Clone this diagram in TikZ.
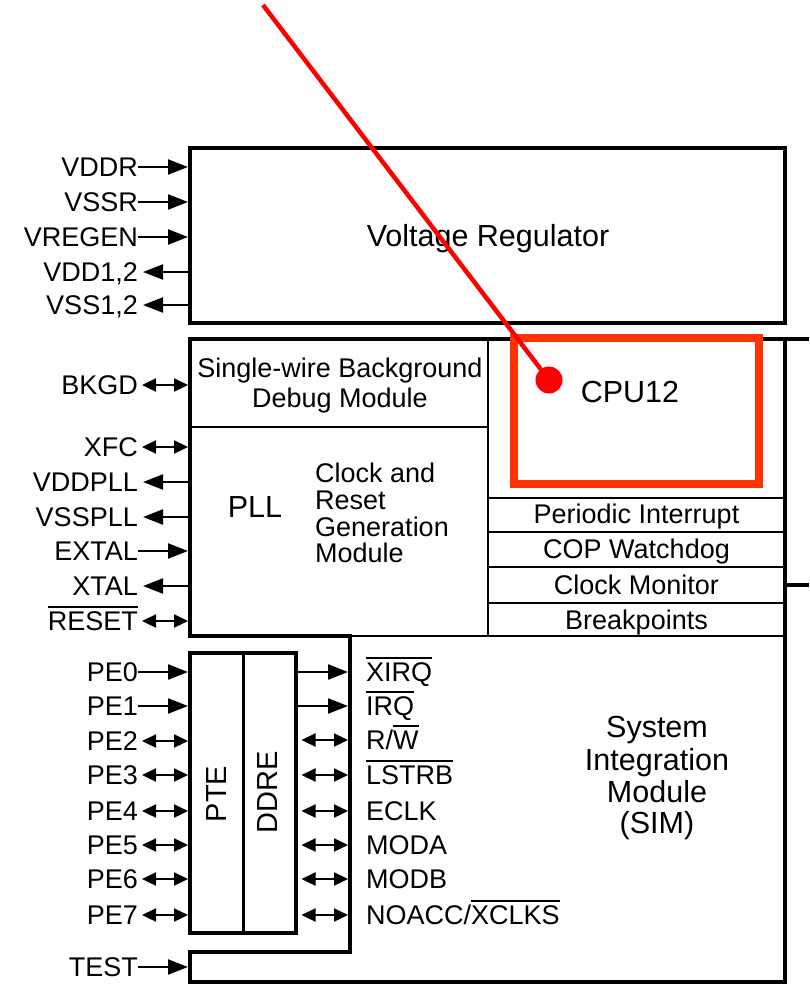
\documentclass[tikz,border=0pt]{standalone}
\usepackage{fontspec}
\setmainfont{Liberation Sans}
\usetikzlibrary{arrows.meta}
\definecolor{redline}{RGB}{255,0,0}
\definecolor{redbox}{RGB}{255,51,0}
\newcommand\ovl[1]{\setbox0\hbox{#1}\rlap{\rule[23pt]{\wd0}{1.6pt}}\box0}
\tikzset{
  lab/.style={font=\fontsize{27}{30}\selectfont, inner sep=0pt, text height=19.3pt, text depth=0pt},
  bigtext/.style={font=\fontsize{30.5}{32}\selectfont, inner sep=0pt, text height=21.8pt, text depth=0pt},
  thickbox/.style={line width=3.5pt},
  thinline/.style={line width=2pt},
  pin in/.style={line width=2.3pt, -{Triangle[length=20pt,width=15pt]}},
  pin out/.style={line width=2.3pt, {Triangle[length=20pt,width=15pt]}-, shorten <=5pt},
  pin bi/.style={line width=2.3pt, {Triangle[length=14pt,width=13pt]}-{Triangle[length=14pt,width=13pt]}, shorten <=4pt},
}
\begin{document}
\begin{tikzpicture}[x=1pt,y=-1pt]
\useasboundingbox (0,0) rectangle (809,985);
\fill[white] (0,0) rectangle (809,985);
% Voltage regulator
\draw[thickbox] (190,148) rectangle (785,323);
\node[bigtext] (vr) at (488,236) {Voltage Regulator};
% lower outline
\draw[thickbox] (809,339) -- (190,339) -- (190,636) -- (350,636) -- (350,952) -- (190,952) -- (190,982) -- (785,982) -- (785,339);
\draw[thickbox] (785,585) -- (809,585);
% inner lines
\draw[thinline] (190,427) -- (488,427);
\draw[thinline] (488,339) -- (488,636);
\draw[thinline] (350,636) -- (785,636);
\foreach \y in {498,532,567,603} \draw[thinline] (488,\y) -- (785,\y);
% PTE / DDRE
\draw[thickbox] (190,653) rectangle (296,933);
\draw[thickbox] (243.5,653) -- (243.5,933);
\node[bigtext, font=\fontsize{29}{30}\selectfont, text height=20.8pt, rotate=90] (pte) at (216,794) {PTE};
\node[bigtext, font=\fontsize{29}{30}\selectfont, text height=20.8pt, rotate=90] (ddre) at (267,792) {DDRE};
% texts
\node[bigtext] (cpu) at (630,392) {CPU12};
\node[lab] (pit) at (636.5,514) {Periodic Interrupt};
\node[lab] (cop) at (636.5,549) {COP Watchdog};
\node[lab] (cm) at (636.5,585) {Clock Monitor};
\node[lab] (bp) at (636.5,620) {Breakpoints};
\node[lab] (bdm1) at (340,368) {Single-wire Background};
\node[lab] (bdm2) at (340,398) {Debug Module};
\node[bigtext] (pll) at (255,507) {PLL};
\node[lab, anchor=west] (crg1) at (315,473) {Clock and};
\node[lab, anchor=west] (crg2) at (315,500) {Reset};
\node[lab, anchor=west] (crg3) at (315,527) {Generation};
\node[lab, anchor=west] (crg4) at (315,553) {Module};
\node[bigtext] (sim1) at (657,727) {System};
\node[bigtext] (sim2) at (657,760) {Integration};
\node[bigtext] (sim3) at (657,792) {Module};
\node[bigtext] (sim4) at (657,823) {(SIM)};
% left pins
\foreach \n/\y/\t/\k in {
 VDDR/167/VDDR/pin in, VSSR/202/VSSR/pin in, VREGEN/237/VREGEN/pin in,
 VDD/272/{VDD1,2}/pin out, VSS/305/{VSS1,2}/pin out,
 BKGD/385/BKGD/pin bi, XFC/447/XFC/pin bi, VDDPLL/482/VDDPLL/pin out,
 VSSPLL/517/VSSPLL/pin out, EXTAL/551/EXTAL/pin in, XTAL/586/XTAL/pin out,
 RESET/621/\ovl{RESET}/pin bi,
 PEa/672/PE0/pin in, PEb/706/PE1/pin in, PEc/741/PE2/pin bi, PEd/775/PE3/pin bi,
 PEe/811/PE4/pin bi, PEf/845/PE5/pin bi, PEg/879/PE6/pin bi, PEh/915/PE7/pin bi,
 TEST/967/TEST/pin in}
{
 \node[lab, anchor=east] (l\n) at (138,\y) {\t};
 \coordinate (c\n) at (188,\y);
 \draw[\k] (l\n.east) -- (c\n);
}
% SIM side pins
\foreach \n/\y/\t/\k in {
 XIRQ/672/\ovl{XIRQ}/pin in, IRQ/706/\ovl{IRQ}/pin in, RW/740/{R/\ovl{W}}/pin bi,
 LSTRB/775/\ovl{LSTRB}/pin bi, ECLK/811/ECLK/pin bi, MODA/845/MODA/pin bi,
 MODB/879/MODB/pin bi, NOACC/915/{NOACC/\ovl{XCLKS}}/pin bi}
{
 \node[lab, anchor=west] (s\n) at (366,\y) {\t};
 \coordinate (d\n) at (297.5,\y);
 \coordinate (e\n) at (348,\y);
 \draw[\k] (d\n) -- (e\n);
}
% red annotation
\node[draw=redbox, line width=8pt, minimum width=245pt, minimum height=146pt, inner sep=0pt] (cpubox) at (636.5,411) {};
\node[circle, fill=redline, minimum size=27pt, inner sep=0pt] (dot) at (549,380) {};
\coordinate (rtop) at (263,5);
\draw[redline, line width=4.5pt] (rtop) -- (dot.center);
\end{tikzpicture}
\end{document}
